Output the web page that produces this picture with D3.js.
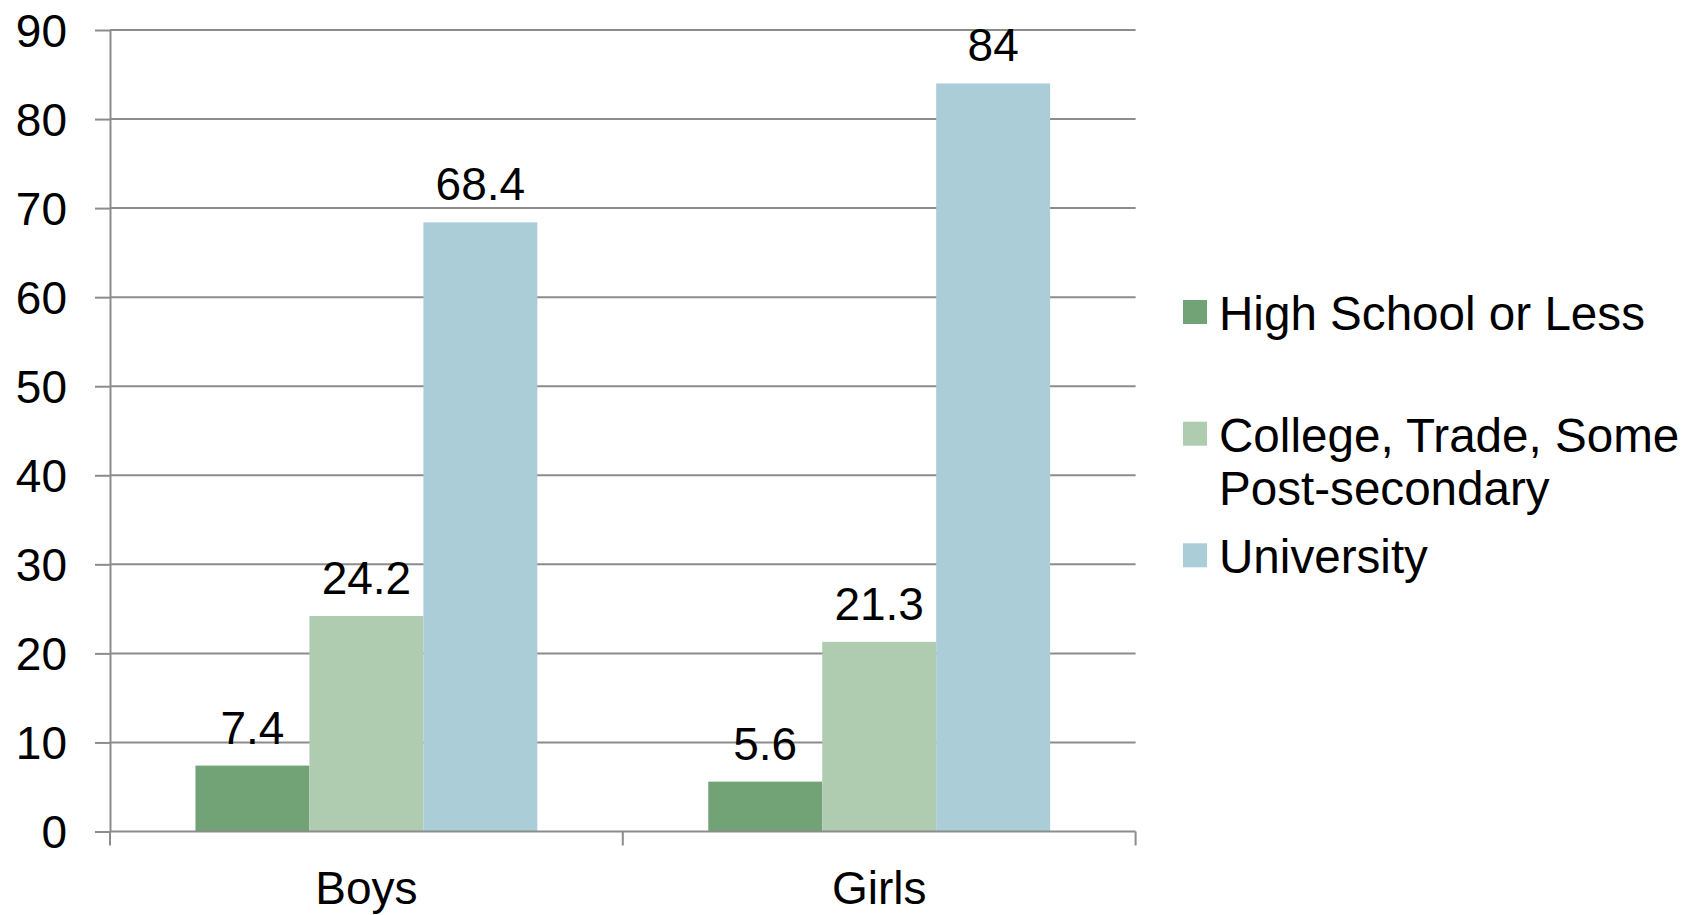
<!DOCTYPE html>
<html>
<head>
<meta charset="utf-8">
<script src="https://cdn.jsdelivr.net/npm/d3@7"></script>
<style>
  body { margin: 0; background: #fff; }
  svg { display: block; }
</style>
</head>
<body>
<div id="chart"></div>
<script>
var categories = ["Boys", "Girls"];
var seriesNames = ["High School or Less", "College, Trade, Some Post-secondary", "University"];
var legendLines = [["High School or Less"], ["College, Trade, Some", "Post-secondary"], ["University"]];
var highSchool = [7.4, 5.6];
var college = [24.2, 21.3];
var university = [68.4, 84];
var yTicks = [0, 10, 20, 30, 40, 50, 60, 70, 80, 90];

var colors = ["#71a377", "#b0ccb0", "#aacdd7"];
var width = 1699;
var height = 915;
var fontFamily = "'Liberation Sans', Arial, sans-serif";

var margin = { left: 110, right: 1135.6, top: 30, bottom: 831.5 };

var seriesValues = [highSchool, college, university];
var data = categories.map(function (c, i) {
    return {
        category: c,
        values: seriesNames.map(function (s, j) { return { series: s, idx: j, value: seriesValues[j][i] }; })
    };
});

var svg = d3.select("#chart")
    .append("svg")
    .attr("width", width)
    .attr("height", height);

var yScale = d3.scaleLinear()
    .domain([0, 90])
    .range([margin.bottom, margin.top]);

var x0 = d3.scaleBand()
    .domain(categories)
    .range([margin.left, margin.right]);

var x1 = d3.scaleBand()
    .domain(seriesNames)
    .range([0, x0.bandwidth()])
    .paddingOuter(0.75);

// gridlines
svg.append("g")
    .selectAll("line")
    .data(yTicks.filter(function (d) { return d > 0; }))
    .enter()
    .append("line")
    .attr("x1", margin.left)
    .attr("x2", margin.right)
    .attr("y1", function (d) { return yScale(d); })
    .attr("y2", function (d) { return yScale(d); })
    .attr("stroke", "#8c8c8c")
    .attr("stroke-width", 2);

// bars
var groups = svg.selectAll("g.cat")
    .data(data)
    .enter()
    .append("g")
    .attr("class", "cat")
    .attr("transform", function (d) { return "translate(" + x0(d.category) + ",0)"; });

groups.selectAll("rect")
    .data(function (d) { return d.values; })
    .enter()
    .append("rect")
    .attr("x", function (d) { return x1(d.series); })
    .attr("y", function (d) { return yScale(d.value); })
    .attr("width", x1.bandwidth())
    .attr("height", function (d) { return yScale(0) - yScale(d.value); })
    .attr("fill", function (d) { return colors[d.idx]; });

groups.selectAll("text")
    .data(function (d) { return d.values; })
    .enter()
    .append("text")
    .attr("x", function (d) { return x1(d.series) + x1.bandwidth() / 2; })
    .attr("y", function (d) { return yScale(d.value) - 22; })
    .attr("text-anchor", "middle")
    .attr("font-family", fontFamily)
    .attr("font-size", "46px")
    .attr("fill", "#000")
    .text(function (d) { return d.value; });

// Y axis
var yAxis = svg.append("g")
    .attr("transform", "translate(" + margin.left + ",0)")
    .call(d3.axisLeft(yScale).tickValues(yTicks).tickSize(15).tickPadding(28).tickSizeOuter(0));
yAxis.select(".domain").attr("stroke", "#8c8c8c").attr("stroke-width", 2);
yAxis.selectAll(".tick line").attr("stroke", "#8c8c8c").attr("stroke-width", 2);
yAxis.selectAll(".tick text")
    .attr("font-family", fontFamily)
    .attr("font-size", "46px")
    .attr("fill", "#000")
    .attr("dy", "0.35em");

// X axis
var xAxisG = svg.append("g")
    .attr("transform", "translate(0," + margin.bottom + ")");
xAxisG.append("line")
    .attr("x1", margin.left)
    .attr("x2", margin.right)
    .attr("stroke", "#8c8c8c")
    .attr("stroke-width", 2);
xAxisG.selectAll("line.tick")
    .data(x0.domain().map(function (d) { return x0(d); }).concat([margin.right]))
    .enter()
    .append("line")
    .attr("class", "tick")
    .attr("x1", function (d) { return d; })
    .attr("x2", function (d) { return d; })
    .attr("y1", 0)
    .attr("y2", 14)
    .attr("stroke", "#8c8c8c")
    .attr("stroke-width", 2);
xAxisG.selectAll("text")
    .data(categories)
    .enter()
    .append("text")
    .attr("x", function (d) { return x0(d) + x0.bandwidth() / 2; })
    .attr("y", 72)
    .attr("text-anchor", "middle")
    .attr("font-family", fontFamily)
    .attr("font-size", "46px")
    .attr("fill", "#000")
    .text(function (d) { return d; });

// Legend
var legendBaselines = [330, 451.7, 573.3];
var legend = svg.append("g").attr("class", "legend");
legendLines.forEach(function (lines, i) {
    legend.append("rect")
        .attr("x", 1183)
        .attr("y", legendBaselines[i] - 30)
        .attr("width", 24)
        .attr("height", 24)
        .attr("fill", colors[i]);
    var t = legend.append("text")
        .attr("x", 1219)
        .attr("y", legendBaselines[i])
        .attr("font-family", fontFamily)
        .attr("font-size", "47.6px")
        .attr("fill", "#000");
    lines.forEach(function (line, k) {
        t.append("tspan")
            .attr("x", 1219)
            .attr("dy", k === 0 ? 0 : 53.3)
            .text(line);
    });
});
</script>
</body>
</html>
